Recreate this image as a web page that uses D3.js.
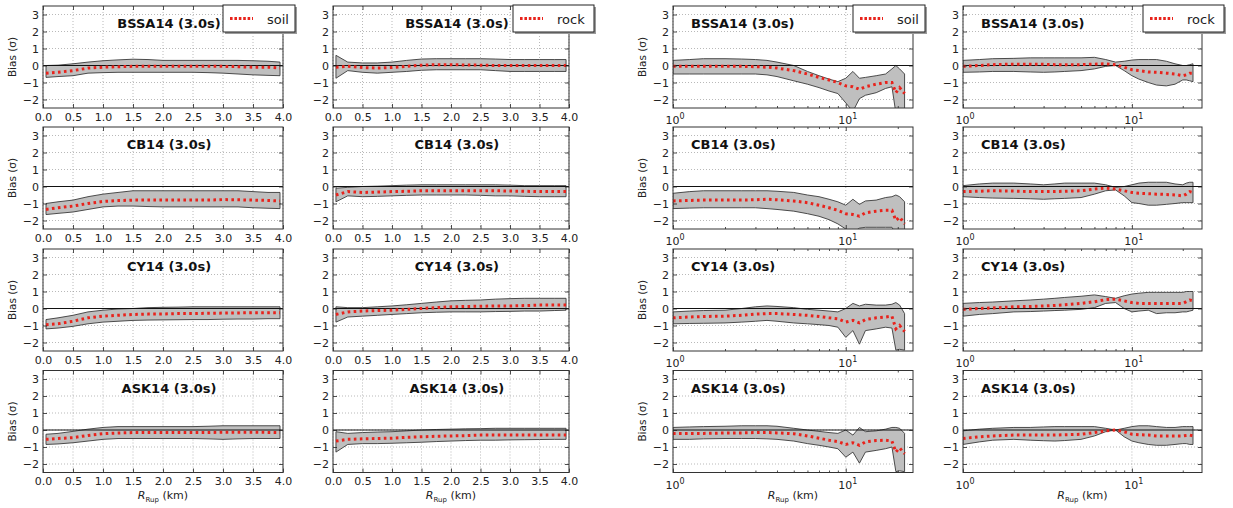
<!DOCTYPE html>
<html><head><meta charset="utf-8">
<script src="https://cdn.jsdelivr.net/npm/d3@7"></script>
<style>body{margin:0;background:#fff;} text{font-family:"DejaVu Sans",sans-serif;}</style>
</head><body><svg id="c" width="1233" height="508"></svg>
<script>
// ---------------- DATA ----------------
const models = ["BSSA14", "CB14", "CY14", "ASK14"];
const period = "3.0s";
const siteLabels = ["soil", "rock", "soil", "rock"];
const yTicks = [-2, -1, 0, 1, 2, 3];
const xTicksLin = [0, 0.5, 1, 1.5, 2, 2.5, 3, 3.5, 4];
const xTicksLog = [1, 10];
const xMinorLog = [2, 3, 4, 5, 6, 7, 8, 9, 20];

// distance grids (km)
const xLin = [0.05, 0.25, 0.5, 0.75, 1.0, 1.25, 1.5, 1.75, 2.0, 2.25, 2.5, 2.75, 3.0, 3.25, 3.5, 3.75, 3.95];
const xLogSoil = [1.0, 1.25, 1.5, 2.0, 2.5, 3.0, 3.5, 4.0, 5.0, 6.0, 7.0, 8.0, 9.0, 10.0, 11.0, 12.0, 13.0, 15.0, 17.0, 18.5, 19.5, 20.5, 21.9];
const xLogRock = [1.0, 1.25, 1.5, 2.0, 2.5, 3.0, 3.5, 4.0, 5.0, 6.0, 7.0, 8.0, 9.0, 10.0, 11.0, 12.5, 14.0, 16.0, 18.0, 20.0, 21.0, 22.0, 23.0];

// column 1: soil, linear distance (rows: BSSA14, CB14, CY14, ASK14)
const meanSoilLin = [
  [-0.45,-0.4,-0.3,-0.15,-0.1,-0.07,-0.05,-0.05,-0.05,-0.05,-0.05,-0.05,-0.05,-0.07,-0.1,-0.1,-0.15],
  [-1.35,-1.25,-1.15,-1.0,-0.88,-0.83,-0.8,-0.8,-0.8,-0.8,-0.8,-0.8,-0.77,-0.78,-0.8,-0.82,-0.85],
  [-0.95,-0.9,-0.75,-0.55,-0.45,-0.4,-0.35,-0.33,-0.32,-0.3,-0.3,-0.28,-0.27,-0.26,-0.25,-0.25,-0.25],
  [-0.55,-0.5,-0.45,-0.32,-0.22,-0.18,-0.15,-0.15,-0.15,-0.15,-0.15,-0.15,-0.13,-0.13,-0.13,-0.14,-0.15]];
const hiSoilLin = [
  [0.0,0.02,0.1,0.2,0.28,0.33,0.37,0.35,0.3,0.3,0.3,0.3,0.3,0.3,0.28,0.25,0.2],
  [-1.0,-0.9,-0.8,-0.6,-0.45,-0.35,-0.25,-0.25,-0.25,-0.25,-0.25,-0.25,-0.25,-0.25,-0.3,-0.35,-0.35],
  [-0.65,-0.55,-0.4,-0.2,-0.1,-0.03,0.0,0.05,0.07,0.08,0.1,0.1,0.1,0.1,0.1,0.1,0.1],
  [-0.25,-0.2,-0.08,0.05,0.15,0.2,0.2,0.2,0.2,0.2,0.2,0.22,0.25,0.25,0.25,0.25,0.25]];
const loSoilLin = [
  [-0.7,-0.65,-0.6,-0.45,-0.42,-0.4,-0.4,-0.4,-0.4,-0.4,-0.4,-0.42,-0.45,-0.5,-0.55,-0.58,-0.6],
  [-1.65,-1.58,-1.5,-1.35,-1.2,-1.15,-1.15,-1.18,-1.2,-1.2,-1.2,-1.2,-1.2,-1.2,-1.25,-1.28,-1.3],
  [-1.2,-1.15,-1.05,-0.9,-0.8,-0.75,-0.7,-0.68,-0.67,-0.66,-0.65,-0.65,-0.63,-0.62,-0.62,-0.6,-0.6],
  [-0.85,-0.82,-0.75,-0.65,-0.55,-0.5,-0.5,-0.5,-0.5,-0.5,-0.5,-0.52,-0.55,-0.52,-0.5,-0.5,-0.5]];

// column 2: rock, linear distance
const meanRockLin = [
  [-0.1,-0.05,-0.12,-0.15,-0.12,-0.05,0.02,0.05,0.05,0.03,0.02,0.0,0.0,0.0,0.0,0.0,0.0],
  [-0.5,-0.3,-0.35,-0.33,-0.3,-0.28,-0.25,-0.25,-0.25,-0.25,-0.25,-0.25,-0.27,-0.28,-0.3,-0.3,-0.3],
  [-0.35,-0.2,-0.15,-0.12,-0.1,-0.05,0.0,0.05,0.1,0.12,0.13,0.15,0.15,0.17,0.2,0.2,0.2],
  [-0.65,-0.55,-0.52,-0.5,-0.48,-0.43,-0.4,-0.37,-0.35,-0.33,-0.3,-0.3,-0.3,-0.3,-0.3,-0.3,-0.3]];
const hiRockLin = [
  [0.6,0.2,0.15,0.15,0.2,0.3,0.38,0.4,0.4,0.4,0.4,0.38,0.35,0.35,0.35,0.35,0.35],
  [-0.1,-0.05,0.0,0.02,0.05,0.08,0.1,0.1,0.1,0.1,0.1,0.1,0.08,0.05,0.05,0.05,0.05],
  [0.1,0.05,0.05,0.1,0.15,0.22,0.3,0.38,0.45,0.48,0.5,0.55,0.58,0.6,0.6,0.6,0.6],
  [-0.1,-0.2,-0.15,-0.12,-0.1,-0.05,0.0,0.03,0.05,0.07,0.08,0.1,0.1,0.1,0.1,0.1,0.1]];
const loRockLin = [
  [-0.75,-0.3,-0.4,-0.45,-0.4,-0.35,-0.28,-0.25,-0.25,-0.25,-0.25,-0.3,-0.35,-0.35,-0.35,-0.35,-0.35],
  [-0.9,-0.55,-0.6,-0.58,-0.55,-0.52,-0.5,-0.5,-0.5,-0.5,-0.52,-0.55,-0.55,-0.58,-0.6,-0.6,-0.6],
  [-0.8,-0.5,-0.45,-0.4,-0.35,-0.3,-0.25,-0.22,-0.2,-0.2,-0.2,-0.18,-0.17,-0.15,-0.15,-0.12,-0.1],
  [-1.3,-0.85,-0.8,-0.8,-0.78,-0.75,-0.72,-0.68,-0.65,-0.62,-0.6,-0.6,-0.58,-0.57,-0.56,-0.55,-0.55]];

// column 3: soil, log distance
const meanSoilLog = [
  [-0.05,-0.05,-0.05,-0.05,-0.05,-0.07,-0.1,-0.15,-0.3,-0.5,-0.7,-0.85,-1.0,-1.2,-1.25,-1.4,-1.25,-1.1,-1.0,-1.0,-1.6,-1.3,-1.65],
  [-0.85,-0.82,-0.8,-0.8,-0.8,-0.78,-0.75,-0.78,-0.85,-0.95,-1.1,-1.25,-1.4,-1.6,-1.65,-1.75,-1.55,-1.45,-1.4,-1.4,-2.0,-1.8,-2.2],
  [-0.55,-0.5,-0.47,-0.45,-0.4,-0.33,-0.3,-0.3,-0.35,-0.4,-0.47,-0.55,-0.6,-0.8,-0.7,-0.85,-0.65,-0.55,-0.5,-0.45,-1.2,-1.0,-1.35],
  [-0.2,-0.2,-0.2,-0.18,-0.17,-0.15,-0.15,-0.17,-0.22,-0.35,-0.48,-0.6,-0.68,-0.85,-0.75,-0.9,-0.7,-0.62,-0.6,-0.65,-1.3,-1.05,-1.4]];
const hiSoilLog = [
  [0.3,0.35,0.4,0.4,0.38,0.35,0.3,0.2,0.0,-0.35,-0.6,-0.8,-0.95,-0.75,-0.35,-0.75,-0.7,-0.6,-0.5,-0.2,0.0,-0.2,-0.5],
  [-0.4,-0.3,-0.25,-0.25,-0.25,-0.25,-0.25,-0.28,-0.35,-0.5,-0.6,-0.75,-0.9,-1.1,-0.75,-1.05,-0.85,-0.8,-0.65,-0.6,-0.5,-0.6,-0.9],
  [-0.2,-0.15,-0.12,-0.1,0.0,0.1,0.15,0.12,0.05,-0.05,-0.1,-0.15,-0.2,0.0,0.3,0.15,0.25,0.2,0.2,0.25,0.35,0.2,-0.3],
  [0.15,0.18,0.2,0.22,0.25,0.25,0.25,0.22,0.1,0.0,-0.08,-0.15,-0.2,0.0,-0.3,0.15,-0.1,-0.05,0.05,0.15,0.15,0.1,-0.2]];
const loSoilLog = [
  [-0.5,-0.5,-0.5,-0.5,-0.5,-0.5,-0.55,-0.65,-0.9,-1.1,-1.3,-1.5,-1.65,-2.2,-2.7,-1.95,-1.75,-1.6,-1.35,-1.25,-2.8,-2.8,-2.8],
  [-1.3,-1.27,-1.25,-1.25,-1.25,-1.25,-1.3,-1.35,-1.45,-1.6,-1.75,-1.95,-2.2,-2.5,-2.7,-2.45,-2.4,-2.4,-2.4,-2.4,-2.8,-2.8,-2.8],
  [-0.9,-0.88,-0.87,-0.85,-0.8,-0.75,-0.7,-0.75,-0.85,-0.9,-0.95,-1.0,-1.1,-1.7,-1.3,-2.1,-1.3,-1.2,-1.1,-1.15,-2.45,-2.4,-2.45],
  [-0.55,-0.55,-0.52,-0.5,-0.5,-0.5,-0.52,-0.55,-0.65,-0.8,-0.9,-1.0,-1.1,-1.6,-1.3,-1.95,-1.3,-1.2,-1.1,-1.0,-2.45,-2.4,-2.45]];

// column 4: rock, log distance
const meanRockLog = [
  [-0.05,0.0,0.05,0.08,0.08,0.07,0.05,0.05,0.05,0.08,0.1,0.05,-0.1,-0.25,-0.3,-0.38,-0.4,-0.45,-0.5,-0.6,-0.55,-0.45,-0.45],
  [-0.3,-0.28,-0.25,-0.27,-0.3,-0.3,-0.3,-0.28,-0.25,-0.15,-0.1,-0.15,-0.25,-0.35,-0.4,-0.42,-0.45,-0.47,-0.5,-0.55,-0.45,-0.3,-0.35],
  [-0.05,0.0,0.03,0.1,0.12,0.15,0.18,0.22,0.3,0.4,0.52,0.55,0.45,0.35,0.3,0.3,0.3,0.3,0.3,0.3,0.4,0.5,0.45],
  [-0.5,-0.4,-0.35,-0.3,-0.3,-0.3,-0.3,-0.28,-0.25,-0.15,-0.05,0.0,-0.1,-0.25,-0.28,-0.3,-0.35,-0.35,-0.35,-0.35,-0.32,-0.3,-0.35]];
const hiRockLog = [
  [0.3,0.35,0.4,0.42,0.45,0.45,0.45,0.45,0.45,0.48,0.35,0.2,0.25,0.32,0.35,0.35,0.35,0.25,0.1,0.0,0.0,0.05,0.1],
  [0.05,0.15,0.2,0.2,0.15,0.1,0.15,0.2,0.2,0.2,0.1,-0.05,0.0,0.1,0.2,0.25,0.25,0.25,0.15,0.1,0.2,0.25,0.25],
  [0.3,0.35,0.38,0.45,0.5,0.55,0.6,0.65,0.72,0.8,0.7,0.6,0.75,0.85,0.9,0.95,0.95,0.95,0.95,0.95,1.0,1.0,1.0],
  [-0.05,0.05,0.1,0.15,0.15,0.18,0.2,0.2,0.2,0.2,0.1,0.0,0.1,0.2,0.25,0.25,0.2,0.15,0.15,0.2,0.2,0.2,0.2]];
const loRockLog = [
  [-0.4,-0.38,-0.35,-0.35,-0.38,-0.4,-0.38,-0.35,-0.3,-0.2,-0.05,0.0,-0.3,-0.6,-0.8,-1.0,-1.15,-1.2,-1.1,-0.85,-0.85,-0.9,-0.95],
  [-0.6,-0.65,-0.68,-0.7,-0.72,-0.75,-0.72,-0.7,-0.65,-0.45,-0.25,-0.2,-0.55,-0.95,-1.0,-1.1,-1.1,-1.05,-1.0,-0.95,-0.95,-0.95,-0.95],
  [-0.45,-0.35,-0.3,-0.2,-0.18,-0.15,-0.12,-0.1,-0.05,0.05,0.3,0.35,0.0,-0.2,-0.15,-0.1,-0.3,-0.25,-0.25,-0.2,-0.2,-0.15,-0.1],
  [-0.85,-0.7,-0.6,-0.55,-0.6,-0.63,-0.65,-0.62,-0.55,-0.35,-0.1,0.0,-0.4,-0.65,-0.75,-0.85,-0.9,-0.9,-0.85,-0.8,-0.8,-0.85,-0.85]];

// ---------------- LAYOUT ----------------
const colLeft = [43, 333, 673, 963];
const colWidth = [240, 236, 240, 239];
const logMax = [24.5, 26];
const rowTop = [6, 127, 249, 370.5];
const plotH = 102;

const columns = [
  {xs: xLin, mean: meanSoilLin, hi: hiSoilLin, lo: loSoilLin, log: false},
  {xs: xLin, mean: meanRockLin, hi: hiRockLin, lo: loRockLin, log: false},
  {xs: xLogSoil, mean: meanSoilLog, hi: hiSoilLog, lo: loSoilLog, log: true},
  {xs: xLogRock, mean: meanRockLog, hi: hiRockLog, lo: loRockLog, log: true}];

const svg = d3.select("#c");
const defs = svg.append("defs");
const TXT = "#222";
const RED = "#e8231c";

function panel(ci, ri) {
  const col = columns[ci];
  const left = colLeft[ci], w = colWidth[ci], top = rowTop[ri], h = plotH;
  const x = col.log ? d3.scaleLog().domain([1, logMax[ci - 2]]).range([left, left + w])
                    : d3.scaleLinear().domain([0, 4]).range([left, left + w]);
  const y = d3.scaleLinear().domain([-2.5, 3.5]).range([top + h, top]);
  const g = svg.append("g");
  const cid = "clip" + ci + "_" + ri;
  defs.append("clipPath").attr("id", cid).append("rect")
    .attr("x", left).attr("y", top).attr("width", w).attr("height", h);

  // grid
  const xt = col.log ? xTicksLog : xTicksLin;
  g.selectAll(".gx").data(xt).join("line")
    .attr("x1", d => x(d)).attr("x2", d => x(d)).attr("y1", top).attr("y2", top + h)
    .attr("stroke", "#8a8a8a").attr("stroke-width", 0.6).attr("stroke-dasharray", "1,2");
  g.selectAll(".gy").data(yTicks).join("line")
    .attr("x1", left).attr("x2", left + w).attr("y1", d => y(d)).attr("y2", d => y(d))
    .attr("stroke", "#8a8a8a").attr("stroke-width", 0.6).attr("stroke-dasharray", "1,2");

  const data = col.xs.map((xv, i) => ({x: xv, m: col.mean[ri][i], hi: col.hi[ri][i], lo: col.lo[ri][i]}));
  const pg = g.append("g").attr("clip-path", `url(#${cid})`);
  const area = d3.area().x(d => x(d.x)).y0(d => y(d.lo)).y1(d => y(d.hi));
  pg.append("path").datum(data).attr("d", d => area(d) + "Z")
    .attr("fill", "#bfbfbf").attr("stroke", "#3a3a3a").attr("stroke-width", 0.9);
  // zero line
  pg.append("line").attr("x1", left).attr("x2", left + w).attr("y1", y(0)).attr("y2", y(0))
    .attr("stroke", "#111").attr("stroke-width", 1);
  // mean dotted line
  const line = d3.line().x(d => x(d.x)).y(d => y(d.m));
  pg.append("path").datum(data).attr("d", line).attr("fill", "none")
    .attr("stroke", RED).attr("stroke-width", 3).attr("stroke-dasharray", "2.6,3.4");

  // axes (ticks inside)
  const bottom = d3.axisBottom(x).tickSizeInner(-4).tickSizeOuter(0).tickPadding(5);
  if (col.log) bottom.tickValues(xTicksLog).tickFormat(() => "");
  else bottom.tickValues(xTicksLin).tickFormat(d3.format(".1f"));
  const ax = g.append("g").attr("transform", `translate(0,${top + h})`).call(bottom);
  const topAx = d3.axisTop(x).tickSizeInner(-4).tickSizeOuter(0).tickValues(xt).tickFormat(() => "");
  const ax2 = g.append("g").attr("transform", `translate(0,${top})`).call(topAx);
  const fmtY = d => (d < 0 ? "\u2212" + Math.abs(d) : String(d));
  const leftAx = d3.axisLeft(y).tickValues(yTicks).tickSizeInner(-4).tickSizeOuter(0).tickPadding(4).tickFormat(fmtY);
  const ay = g.append("g").attr("transform", `translate(${left},0)`).call(leftAx);
  const rightAx = d3.axisRight(y).tickValues(yTicks).tickSizeInner(-4).tickSizeOuter(0).tickFormat(() => "");
  const ay2 = g.append("g").attr("transform", `translate(${left + w},0)`).call(rightAx);
  const extras = [];
  if (col.log) {
    const mb = d3.axisBottom(x).tickValues(xMinorLog).tickSizeInner(-2).tickSizeOuter(0).tickFormat(() => "");
    extras.push(g.append("g").attr("transform", `translate(0,${top + h})`).call(mb));
    const mt = d3.axisTop(x).tickValues(xMinorLog).tickSizeInner(-2).tickSizeOuter(0).tickFormat(() => "");
    extras.push(g.append("g").attr("transform", `translate(0,${top})`).call(mt));
    // 10^n labels
    xTicksLog.forEach(v => {
      const t = g.append("text").attr("x", x(v) + 2).attr("y", top + h + 16).attr("text-anchor", "middle")
        .attr("font-size", 11).attr("fill", TXT);
      t.append("tspan").text("10");
      t.append("tspan").attr("dy", -5).attr("font-size", 8).text(String(Math.round(Math.log10(v))));
    });
  }
  [ax, ax2, ay, ay2, ...extras].forEach(a => {
    a.select(".domain").remove();
    a.selectAll(".tick line").attr("stroke", "#222").attr("stroke-width", 0.8);
    a.selectAll(".tick text").attr("font-size", 11).attr("fill", TXT).attr("font-family", "DejaVu Sans");
  });
  // spines
  g.append("rect").attr("x", left).attr("y", top).attr("width", w).attr("height", h)
    .attr("fill", "none").attr("stroke", "#333").attr("stroke-width", 1);

  // title
  const title = `${models[ri]} (${period})`;
  if (col.log) {
    g.append("text").attr("x", left + 18).attr("y", y(2.5) + 5).attr("font-size", 13)
      .attr("font-weight", "bold").attr("fill", "#111").text(title);
  } else {
    g.append("text").attr("x", x(2.1)).attr("y", y(2.5) + 5).attr("font-size", 13)
      .attr("font-weight", "bold").attr("text-anchor", "middle").attr("fill", "#111").text(title);
  }

  // y label
  if (ci === 0 || ci === 2) {
    g.append("text").attr("transform", `translate(${left - 27},${top + h / 2}) rotate(-90)`)
      .attr("text-anchor", "middle").attr("font-size", 10.5).attr("fill", TXT).text("Bias (\u03C3)");
  }
  // x label
  if (ri === 3) {
    const t = g.append("text").attr("x", left + w / 2).attr("y", 499).attr("text-anchor", "middle")
      .attr("font-size", 11).attr("fill", TXT);
    t.append("tspan").attr("font-style", "italic").text("R");
    t.append("tspan").attr("font-size", 7).attr("dy", 3).text("Rup");
    t.append("tspan").attr("dy", -3).text(" (km)");
  }
  // legend (first row)
  if (ri === 0) {
    const lab = siteLabels[ci];
    const lx = left + 180, ly = top - 1, lw = lab === "soil" ? 72 : 81, lh = 27;
    g.append("rect").attr("x", lx + 2).attr("y", ly + 2).attr("width", lw).attr("height", lh).attr("fill", "#9a9a9a");
    g.append("rect").attr("x", lx).attr("y", ly).attr("width", lw).attr("height", lh)
      .attr("fill", "#fff").attr("stroke", "#222").attr("stroke-width", 1);
    g.append("line").attr("x1", lx + 7).attr("x2", lx + 30).attr("y1", ly + lh / 2).attr("y2", ly + lh / 2)
      .attr("stroke", RED).attr("stroke-width", 3).attr("stroke-dasharray", "2.6,1.8");
    g.append("text").attr("x", lx + 44).attr("y", ly + lh / 2 + 5).attr("font-size", 13)
      .attr("fill", TXT).text(lab);
  }
}

for (let ri = 0; ri < 4; ri++) for (let ci = 0; ci < 4; ci++) panel(ci, ri);
</script></body></html>
